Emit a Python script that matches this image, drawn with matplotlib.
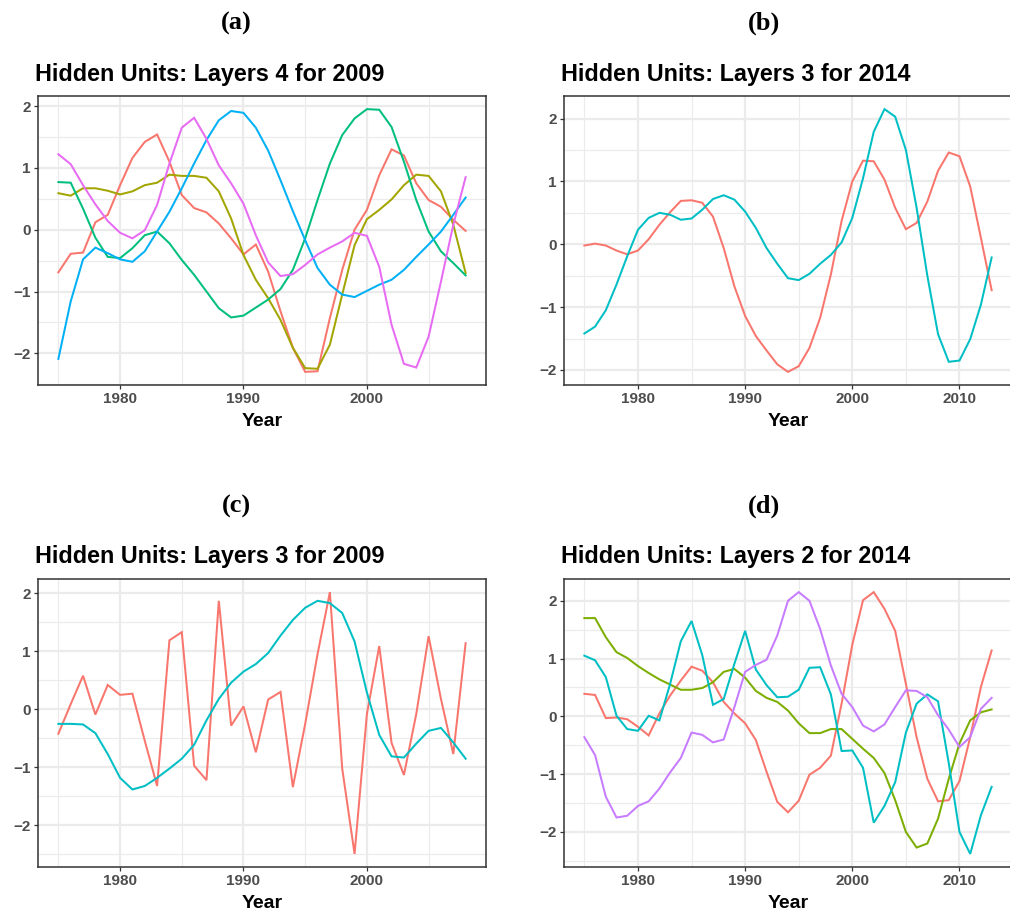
import numpy as np
import matplotlib
matplotlib.use("Agg")
import matplotlib.pyplot as plt

# ---------------------------------------------------------------- data
years_a = list(range(1975, 2009))   # panels (a) and (c)
years_b = list(range(1975, 2014))   # panels (b) and (d)

# (a) Hidden units, 4 layers, 2009
a_unit1 = [-0.69, -0.39, -0.37, 0.12, 0.24, 0.72, 1.16, 1.42, 1.54, 1.10, 0.56, 0.35,
           0.28, 0.10, -0.14, -0.40, -0.24, -0.68, -1.32, -1.91, -2.30, -2.29, -1.43,
           -0.65, 0.00, 0.32, 0.88, 1.30, 1.20, 0.75, 0.48, 0.37, 0.16, -0.02]
a_unit2 = [0.59, 0.55, 0.67, 0.67, 0.63, 0.57, 0.62, 0.72, 0.76, 0.89, 0.87, 0.87,
           0.84, 0.62, 0.18, -0.41, -0.81, -1.11, -1.46, -1.91, -2.24, -2.25, -1.86,
           -1.05, -0.25, 0.17, 0.32, 0.49, 0.72, 0.89, 0.87, 0.62, 0.08, -0.70]
a_unit3 = [0.77, 0.76, 0.34, -0.13, -0.44, -0.46, -0.30, -0.09, -0.03, -0.22, -0.49,
           -0.73, -1.00, -1.27, -1.42, -1.39, -1.26, -1.13, -0.96, -0.65, -0.14, 0.48,
           1.07, 1.53, 1.80, 1.95, 1.94, 1.66, 1.10, 0.48, -0.03, -0.35, -0.54, -0.74]
a_unit4 = [-2.09, -1.16, -0.48, -0.29, -0.38, -0.48, -0.52, -0.35, -0.03, 0.29, 0.67,
           1.07, 1.45, 1.77, 1.92, 1.89, 1.65, 1.28, 0.80, 0.30, -0.17, -0.62, -0.89,
           -1.05, -1.09, -0.99, -0.89, -0.81, -0.65, -0.44, -0.24, -0.03, 0.24, 0.52]
a_unit5 = [1.22, 1.06, 0.72, 0.41, 0.14, -0.05, -0.14, -0.01, 0.40, 1.07, 1.65, 1.81,
           1.47, 1.04, 0.75, 0.42, -0.09, -0.53, -0.75, -0.72, -0.57, -0.40, -0.29,
           -0.19, -0.05, -0.10, -0.60, -1.54, -2.17, -2.23, -1.73, -0.84, 0.08, 0.85]

# (b) Hidden units, 3 layers, 2014
b_unit1 = [-0.02, 0.01, -0.02, -0.10, -0.16, -0.10, 0.08, 0.31, 0.51, 0.69, 0.70, 0.66,
           0.44, -0.06, -0.67, -1.14, -1.46, -1.69, -1.91, -2.03, -1.94, -1.65, -1.17,
           -0.48, 0.37, 1.00, 1.33, 1.32, 1.03, 0.58, 0.24, 0.34, 0.68, 1.17, 1.46,
           1.40, 0.92, 0.10, -0.73]
b_unit2 = [-1.42, -1.31, -1.05, -0.64, -0.19, 0.23, 0.42, 0.50, 0.47, 0.39, 0.41, 0.55,
           0.72, 0.78, 0.71, 0.52, 0.26, -0.06, -0.31, -0.54, -0.57, -0.47, -0.31,
           -0.17, 0.03, 0.42, 1.05, 1.79, 2.15, 2.03, 1.50, 0.58, -0.50, -1.43, -1.87,
           -1.85, -1.51, -0.96, -0.21]

# (c) Hidden units, 3 layers, 2009
c_unit1 = [-0.42, 0.09, 0.58, -0.09, 0.42, 0.25, 0.27, -0.54, -1.32, 1.19, 1.33, -0.97,
           -1.22, 1.87, -0.28, 0.05, -0.74, 0.17, 0.30, -1.34, -0.25, 0.95, 2.02, -1.02,
           -2.49, -0.08, 1.09, -0.58, -1.13, -0.08, 1.26, 0.18, -0.77, 1.14]
c_unit2 = [-0.25, -0.25, -0.26, -0.41, -0.77, -1.18, -1.38, -1.32, -1.18, -1.02, -0.85,
           -0.61, -0.19, 0.18, 0.46, 0.65, 0.78, 0.97, 1.27, 1.54, 1.75, 1.87, 1.83,
           1.66, 1.17, 0.29, -0.44, -0.81, -0.83, -0.59, -0.37, -0.32, -0.57, -0.85]

# (d) Hidden units, 2 layers, 2014
d_unit1 = [0.39, 0.37, -0.03, -0.02, -0.05, -0.18, -0.33, 0.05, 0.36, 0.62, 0.86, 0.79,
           0.59, 0.25, 0.05, -0.12, -0.41, -0.96, -1.48, -1.66, -1.46, -1.01, -0.89,
           -0.68, 0.22, 1.24, 2.01, 2.15, 1.86, 1.48, 0.56, -0.36, -1.08, -1.47, -1.45,
           -1.12, -0.36, 0.51, 1.14]
d_unit2 = [1.70, 1.70, 1.37, 1.11, 1.01, 0.87, 0.75, 0.64, 0.55, 0.46, 0.46, 0.49, 0.59,
           0.77, 0.82, 0.67, 0.44, 0.32, 0.25, 0.10, -0.12, -0.29, -0.29, -0.22, -0.22,
           -0.39, -0.56, -0.72, -0.98, -1.45, -2.00, -2.27, -2.20, -1.77, -1.08, -0.47,
           -0.07, 0.07, 0.12]
d_unit3 = [1.05, 0.97, 0.68, 0.01, -0.22, -0.25, 0.01, -0.07, 0.56, 1.30, 1.65, 1.06,
           0.20, 0.30, 0.91, 1.48, 0.81, 0.54, 0.33, 0.34, 0.46, 0.84, 0.85, 0.38,
           -0.60, -0.59, -0.89, -1.84, -1.55, -1.14, -0.28, 0.22, 0.38, 0.26, -0.81,
           -2.00, -2.38, -1.71, -1.22]
d_unit4 = [-0.36, -0.67, -1.39, -1.75, -1.72, -1.55, -1.47, -1.25, -0.97, -0.72, -0.28,
           -0.32, -0.45, -0.40, 0.16, 0.77, 0.89, 0.98, 1.40, 2.00, 2.15, 2.00, 1.51,
           0.88, 0.39, 0.16, -0.16, -0.26, -0.14, 0.16, 0.45, 0.44, 0.33, 0.02, -0.23,
           -0.53, -0.36, 0.13, 0.32]

panel_labels = ["(a)", "(b)", "(c)", "(d)"]
titles = ["Hidden Units: Layers 4 for 2009", "Hidden Units: Layers 3 for 2014",
          "Hidden Units: Layers 3 for 2009", "Hidden Units: Layers 2 for 2014"]
x_label = "Year"
y_ticks = [-2, -1, 0, 1, 2]
x_ticks_short = [1980, 1990, 2000]
x_ticks_long = [1980, 1990, 2000, 2010]

# ggplot2 default hue palettes
hue2 = ["#F8766D", "#00BFC4"]
hue4 = ["#F8766D", "#7CAE00", "#00BFC4", "#C77CFF"]
hue5 = ["#F8766D", "#A3A500", "#00BF7D", "#00B0F6", "#E76BF3"]

# ---------------------------------------------------------------- figure
W, H = 1010, 916
fig = plt.figure(figsize=(W / 100, H / 100), dpi=100)
fig.patch.set_facecolor("white")

SANS = ["Liberation Sans", "DejaVu Sans"]
SERIF = ["Liberation Serif", "DejaVu Serif"]


def add_panel(box, years, series, colors, xticks, title, label, label_x):
    left, right, top, bottom = box
    ax = fig.add_axes([left / W, 1 - bottom / H, (right - left) / W, (bottom - top) / H])
    for vals, col in zip(series, colors):
        ax.plot(years, vals, color=col, lw=1.45, solid_joinstyle="miter", zorder=3)

    # ggplot-style 5% expansion
    ymin = min(min(s) for s in series)
    ymax = max(max(s) for s in series)
    dy = (ymax - ymin) * 0.05
    dx = (years[-1] - years[0]) * 0.05
    ax.set_xlim(years[0] - dx, years[-1] + dx)
    ax.set_ylim(ymin - dy, ymax + dy)

    ax.set_xticks(xticks)
    ax.set_yticks(y_ticks)
    xminor = [v + 5 for v in range(1960, 2030, 10)]
    ax.set_xticks([v for v in xminor if years[0] - dx < v < years[-1] + dx], minor=True)
    ax.set_yticks([v + 0.5 for v in range(-4, 4)
                   if ymin - dy < v + 0.5 < ymax + dy], minor=True)

    ax.grid(which="major", color="#EBEBEB", lw=1.6, zorder=0)
    ax.grid(which="minor", color="#EBEBEB", lw=0.8, zorder=0)
    ax.set_axisbelow(True)

    for sp in ax.spines.values():
        sp.set_color("#333333")
        sp.set_linewidth(1.1)

    ax.tick_params(which="major", length=3.0, width=0.9, color="#333333",
                   pad=2.2, labelsize=11, labelcolor="#4D4D4D")
    ax.tick_params(which="minor", length=0)
    for t in ax.get_xticklabels() + ax.get_yticklabels():
        t.set_fontfamily(SANS)
        t.set_fontweight("bold")

    cx = (left + right) / 2
    fig.text(cx / W, 1 - (bottom + 37) / H, x_label, ha="center", va="center",
             fontsize=14, fontweight="bold", family=SANS, color="black")
    fig.text((left - 3) / W, 1 - (top - 22) / H, title, ha="left", va="center",
             fontsize=16.8, fontweight="bold", family=SANS, color="black")
    fig.text(label_x / W, 1 - (top - 73) / H, label, ha="center", va="center",
             fontsize=19, fontweight="bold", family=SERIF, color="black")
    return ax


add_panel((38, 486, 96, 385), years_a,
          [a_unit1, a_unit2, a_unit3, a_unit4, a_unit5], hue5,
          x_ticks_short, titles[0], panel_labels[0], 236)
add_panel((564, 1012, 96, 385), years_b,
          [b_unit1, b_unit2], hue2,
          x_ticks_long, titles[1], panel_labels[1], 764)
add_panel((38, 486, 579, 867), years_a,
          [c_unit1, c_unit2], hue2,
          x_ticks_short, titles[2], panel_labels[2], 236)
add_panel((564, 1012, 579, 867), years_b,
          [d_unit1, d_unit2, d_unit3, d_unit4], hue4,
          x_ticks_long, titles[3], panel_labels[3], 764)

fig.savefig("out.png", dpi=100, facecolor="white")
